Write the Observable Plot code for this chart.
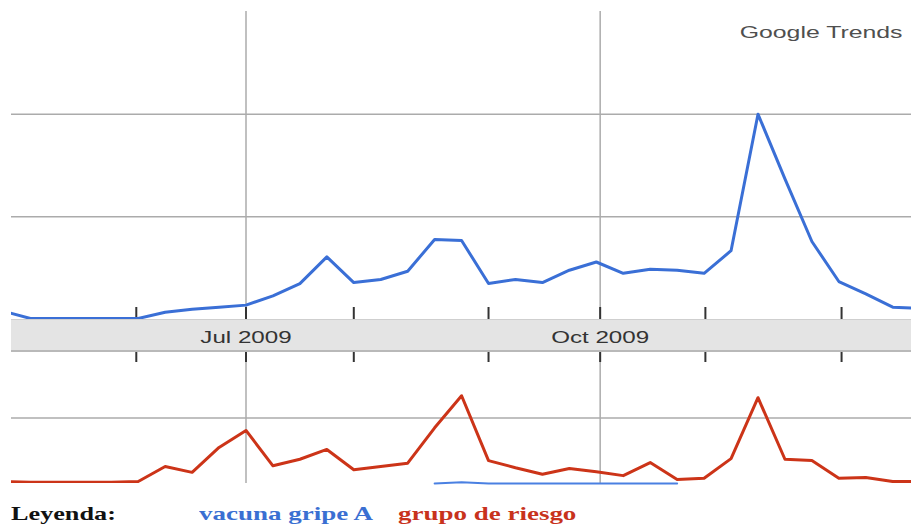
<!DOCTYPE html>
<html>
<head>
<meta charset="utf-8">
<script src="https://cdn.jsdelivr.net/npm/d3@7"></script>
<script src="https://cdn.jsdelivr.net/npm/@observablehq/plot@0.6"></script>
<style>
  html, body { margin: 0; padding: 0; background: #fff; }
  #wrap { position: relative; width: 911px; height: 527px; overflow: hidden; background: #fff; }
  #wrap svg { position: relative; z-index: 1; display: block; }
  #band { position: absolute; left: 11px; top: 319px; width: 900px; height: 33px; box-sizing: border-box;
          background: #e4e4e4; border-top: 1px solid #cfcfcf; border-bottom: 2px solid #b9b9b9; z-index: 0; }
  .leg { position: absolute; top: 504px; font-family: "Liberation Serif", "Times New Roman", serif; font-weight: bold;
         font-size: 19px; line-height: 19px; white-space: nowrap; transform-origin: 0 0; transform: scaleX(1.38); z-index: 2; }
  .leg.c { transform: scaleX(1.42); }
</style>
</head>
<body>
<div id="wrap">
  <div id="band"></div>
  <div id="top"></div>
  <div id="bottom"></div>
  <span class="leg" style="left:11px;color:#111;">Leyenda:</span>
  <span class="leg c" style="left:199px;color:#3a6fd2;">vacuna gripe A</span>
  <span class="leg c" style="left:398px;color:#c8321c;">grupo de riesgo</span>
</div>
<script>
// ---- data ----
const weeks = ["2009-04-29","2009-05-06","2009-05-13","2009-05-20","2009-05-27","2009-06-03","2009-06-10","2009-06-17","2009-06-24",
  "2009-07-01","2009-07-08","2009-07-15","2009-07-22","2009-07-29","2009-08-05","2009-08-12","2009-08-19","2009-08-26",
  "2009-09-02","2009-09-09","2009-09-16","2009-09-23","2009-09-30","2009-10-07","2009-10-14","2009-10-21","2009-10-28",
  "2009-11-04","2009-11-11","2009-11-18","2009-11-25","2009-12-02","2009-12-09","2009-12-16","2009-12-23"];
const vacuna = [0.08,0.01,0.01,0.01,0.01,0.01,0.07,0.10,0.12,0.14,0.23,0.35,0.61,0.36,0.39,0.47,0.78,0.77,
  0.35,0.39,0.36,0.48,0.56,0.45,0.49,0.48,0.45,0.67,2.00,1.37,0.76,0.37,0.25,0.12,0.11];
const riesgo = [0.03,0.02,0.02,0.02,0.02,0.03,0.26,0.17,0.55,0.81,0.27,0.37,0.52,0.21,0.26,0.31,0.85,1.34,
  0.35,0.24,0.14,0.23,0.18,0.12,0.32,0.06,0.08,0.38,1.31,0.37,0.35,0.08,0.09,0.03,0.03];
// short blue trace near the baseline of the lower panel
const vacunaBajoWeeks = ["2009-08-19","2009-08-26","2009-09-02","2009-09-09","2009-09-16","2009-09-23","2009-09-30","2009-10-07","2009-10-14","2009-10-21"];
const vacunaBajo = [0.00,0.02,0.00,0.00,0.00,0.00,0.00,0.00,0.00,0.00];
const gridDates = ["2009-07-01","2009-10-01"];
const tickDates = ["2009-06-02T12:00Z","2009-07-01","2009-07-29","2009-09-02","2009-10-01","2009-10-28T08:00Z","2009-12-02T17:00Z"];
const xDomain = ["2009-05-01T02:00Z","2009-12-20T21:00Z"];
const topGrid = [1, 2];
const bottomGrid = [1];
const watermark = ["Google Trends"];

const BLUE = "#3a6fd6", RED = "#cc3418", GRID = "#ababab", TICK = "#333";
const toDate = s => new Date(s.length === 10 ? s + "T00:00Z" : s);

const topData = weeks.map((w, i) => ({date: toDate(w), value: vacuna[i]}));
const botData = weeks.map((w, i) => ({date: toDate(w), value: riesgo[i]}));
const lowBlue = vacunaBajoWeeks.map((w, i) => ({date: toDate(w), value: vacunaBajo[i]}));
const grid = gridDates.map(toDate);
const ticks = tickDates.map(toDate);
const xdom = xDomain.map(toDate);
const fmt = d3.utcFormat("%b %Y");

// widen text horizontally (the reference is stretched) without touching its position
function widen(svg, selector, k) {
  svg.querySelectorAll(selector).forEach(t => {
    const w = t.getComputedTextLength();
    if (w > 0) {
      t.setAttribute("textLength", (w * k).toFixed(1));
      t.setAttribute("lengthAdjust", "spacingAndGlyphs");
    }
  });
}

const topPlot = Plot.plot({
  width: 911, height: 352,
  marginTop: 11, marginBottom: 33, marginLeft: 11, marginRight: 0,
  style: {background: "transparent", fontFamily: "'Liberation Sans', Arial, sans-serif", overflow: "visible"},
  x: {type: "utc", domain: xdom, axis: null},
  y: {domain: [0, 3], axis: null},
  marks: [
    Plot.ruleY(topGrid, {stroke: GRID, strokeWidth: 1.5}),
    Plot.ruleX(grid, {stroke: GRID, strokeWidth: 1.5}),
    Plot.ruleX(ticks, {stroke: TICK, strokeWidth: 2, insetTop: 296}),
    Plot.axisX({ticks: grid, anchor: "bottom", tickSize: 0, tickPadding: 11, label: null,
      tickFormat: fmt, fontSize: 17, fill: "#333"}),
    Plot.line(topData, {x: "date", y: "value", stroke: BLUE, strokeWidth: 3, clip: true}),
    Plot.text(watermark, {text: d => d, frameAnchor: "top-right", textAnchor: "end", lineAnchor: "bottom",
      dx: -9, dy: 26, fontSize: 17, fill: "#4f4f4f"})
  ]
});
document.getElementById("top").appendChild(topPlot);
widen(topPlot, '[aria-label="x-axis tick label"] text', 1.42);
widen(topPlot, 'g[aria-label="text"] text', 1.46);

const botPlot = Plot.plot({
  width: 911, height: 135,
  marginTop: 0, marginBottom: 4, marginLeft: 11, marginRight: 0,
  style: {background: "transparent", overflow: "visible"},
  x: {type: "utc", domain: xdom, axis: null},
  y: {domain: [0, 2], axis: null},
  marks: [
    Plot.ruleY(bottomGrid, {stroke: GRID, strokeWidth: 1.5}),
    Plot.ruleX(grid, {stroke: GRID, strokeWidth: 1.5}),
    Plot.ruleX(ticks, {stroke: TICK, strokeWidth: 2, insetBottom: 121}),
    Plot.line(lowBlue, {x: "date", y: "value", stroke: "#4a80e2", strokeWidth: 2}),
    Plot.line(botData, {x: "date", y: "value", stroke: RED, strokeWidth: 3, clip: true})
  ]
});
document.getElementById("bottom").appendChild(botPlot);
</script>
</body>
</html>
